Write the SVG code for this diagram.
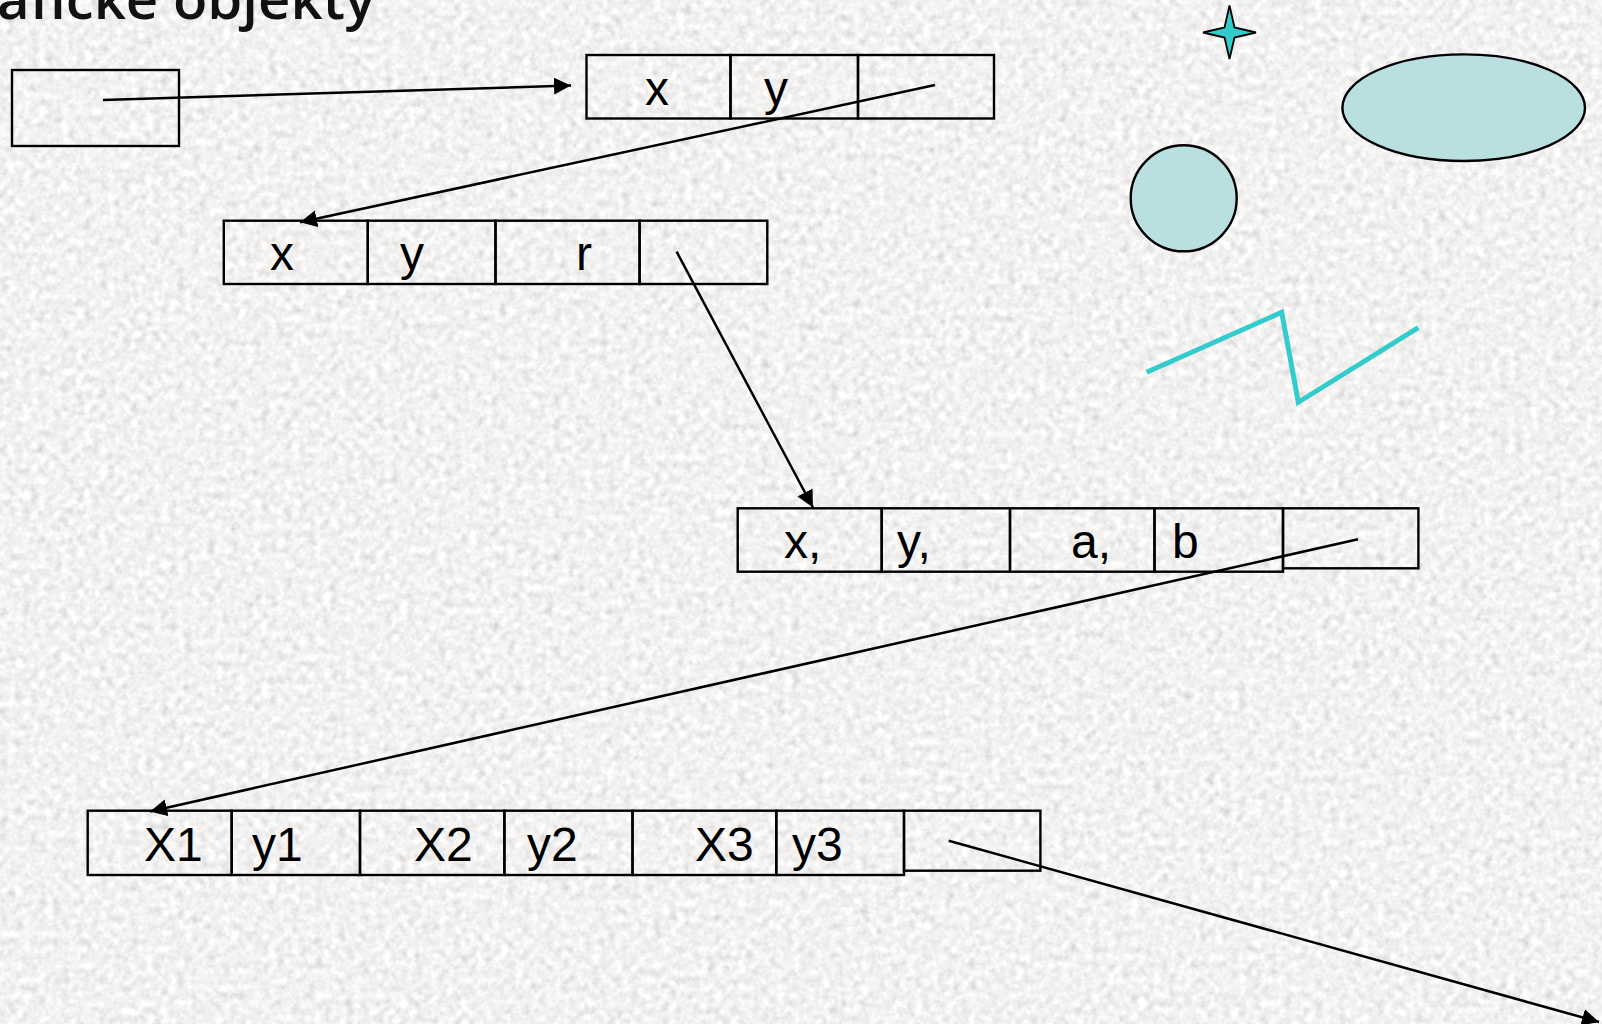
<svg xmlns="http://www.w3.org/2000/svg" width="1602" height="1024" viewBox="0 0 1602 1024">
  <defs>
    <filter id="granite" filterUnits="userSpaceOnUse" x="0" y="0" width="1602" height="1024">
      <feTurbulence type="fractalNoise" baseFrequency="0.13" numOctaves="3" seed="7" result="t"/>
      <feColorMatrix in="t" type="matrix" values="0.33 0.33 0.34 0 0  0.33 0.33 0.34 0 0  0.33 0.33 0.34 0 0  0 0 0 0 1"/>
      <feComponentTransfer>
        <feFuncR type="linear" slope="0.8" intercept="0.495"/>
        <feFuncG type="linear" slope="0.8" intercept="0.487"/>
        <feFuncB type="linear" slope="0.8" intercept="0.478"/>
      </feComponentTransfer>
    </filter>
    <marker id="arrow" markerUnits="userSpaceOnUse" markerWidth="20" markerHeight="20" refX="17" refY="8.5" orient="auto">
      <path d="M0,0 L17,8.5 L0,17 Z" fill="#000"/>
    </marker>
    <style>
      .cell { fill: none; stroke: #000; stroke-width: 2.4; }
      .lbl { font-family: "Liberation Sans", Arial, sans-serif; font-size: 48px; fill: #000; }
      .conn { stroke: #000; stroke-width: 2.5; fill: none; marker-end: url(#arrow); }
      .shape { fill: #B9DFE1; stroke: #000; stroke-width: 2.4; }
    </style>
  </defs>

  <rect x="0" y="0" width="1602" height="1024" fill="#e2e0de"/>
  <rect x="0" y="0" width="1602" height="1024" filter="url(#granite)"/>

  <text x="-3" y="19" font-family="Open Sans, DejaVu Sans, sans-serif" font-weight="600" font-size="56" fill="#111" textLength="378" lengthAdjust="spacingAndGlyphs">aficke objekty</text>

  <g id="boxA">
    <rect class="cell" x="12" y="70" width="167" height="76"/>
  </g>

  <g id="boxB">
    <rect class="cell" x="586.5" y="55" width="144" height="63.5"/>
    <rect class="cell" x="730.5" y="55" width="127.5" height="63.5"/>
    <rect class="cell" x="858" y="55" width="136" height="63.5"/>
    <text class="lbl" x="645" y="105">x</text>
    <text class="lbl" x="764" y="105">y</text>
  </g>

  <g id="boxC">
    <rect class="cell" x="223.8" y="220.7" width="144" height="63.3"/>
    <rect class="cell" x="367.8" y="220.7" width="127.7" height="63.3"/>
    <rect class="cell" x="495.5" y="220.7" width="144.1" height="63.3"/>
    <rect class="cell" x="639.6" y="220.7" width="127.7" height="63.3"/>
    <text class="lbl" x="270" y="270">x</text>
    <text class="lbl" x="400" y="270">y</text>
    <text class="lbl" x="576" y="270">r</text>
  </g>

  <g id="boxD">
    <rect class="cell" x="737.7" y="508.3" width="144" height="63.4"/>
    <rect class="cell" x="881.7" y="508.3" width="128.3" height="63.4"/>
    <rect class="cell" x="1010" y="508.3" width="144.5" height="63.4"/>
    <rect class="cell" x="1154.5" y="508.3" width="128.5" height="63.4"/>
    <rect class="cell" x="1283" y="508.3" width="135.4" height="60"/>
    <text class="lbl" x="784" y="558.3">x,</text>
    <text class="lbl" x="897" y="558.3">y,</text>
    <text class="lbl" x="1071" y="558.3">a,</text>
    <text class="lbl" x="1172" y="558.3">b</text>
  </g>

  <g id="boxE">
    <rect class="cell" x="87.7" y="810.7" width="144" height="64.3"/>
    <rect class="cell" x="231.7" y="810.7" width="128.3" height="64.3"/>
    <rect class="cell" x="360" y="810.7" width="144.4" height="64.3"/>
    <rect class="cell" x="504.4" y="810.7" width="128.1" height="64.3"/>
    <rect class="cell" x="632.5" y="810.7" width="143.8" height="64.3"/>
    <rect class="cell" x="776.3" y="810.7" width="127.7" height="64.3"/>
    <rect class="cell" x="904" y="810.7" width="136.4" height="60"/>
    <text class="lbl" x="144" y="861">X1</text>
    <text class="lbl" x="252" y="861">y1</text>
    <text class="lbl" x="414" y="861">X2</text>
    <text class="lbl" x="527" y="861">y2</text>
    <text class="lbl" x="695" y="861">X3</text>
    <text class="lbl" x="792" y="861">y3</text>
  </g>

  <g id="star">
    <polygon points="1229.5,5.5 1234.5,27.5 1256,32.5 1234.5,37.5 1229.5,59 1224.5,37.5 1203,32.5 1224.5,27.5" fill="#33CCCC" stroke="#000" stroke-width="1.8" stroke-linejoin="miter"/>
  </g>

  <g id="ellipse">
    <ellipse class="shape" cx="1463.7" cy="107.7" rx="121.3" ry="53.3"/>
  </g>

  <g id="circle">
    <circle class="shape" cx="1183.7" cy="198.3" r="53"/>
  </g>

  <g id="zigzag">
    <polyline points="1146.7,372.3 1281.7,312.3 1298.3,402.3 1418.3,327.7" fill="none" stroke="#33CCCC" stroke-width="5"/>
  </g>

  <g id="connectors">
    <line class="conn" x1="103" y1="100" x2="571" y2="85.5"/>
    <line class="conn" x1="935" y1="85" x2="300" y2="222.3"/>
    <line class="conn" x1="676.6" y1="251.7" x2="813" y2="507.5"/>
    <line class="conn" x1="1358" y1="539.3" x2="150" y2="811.5"/>
    <line class="conn" x1="948.7" y1="840.7" x2="1599" y2="1022"/>
  </g>
</svg>
